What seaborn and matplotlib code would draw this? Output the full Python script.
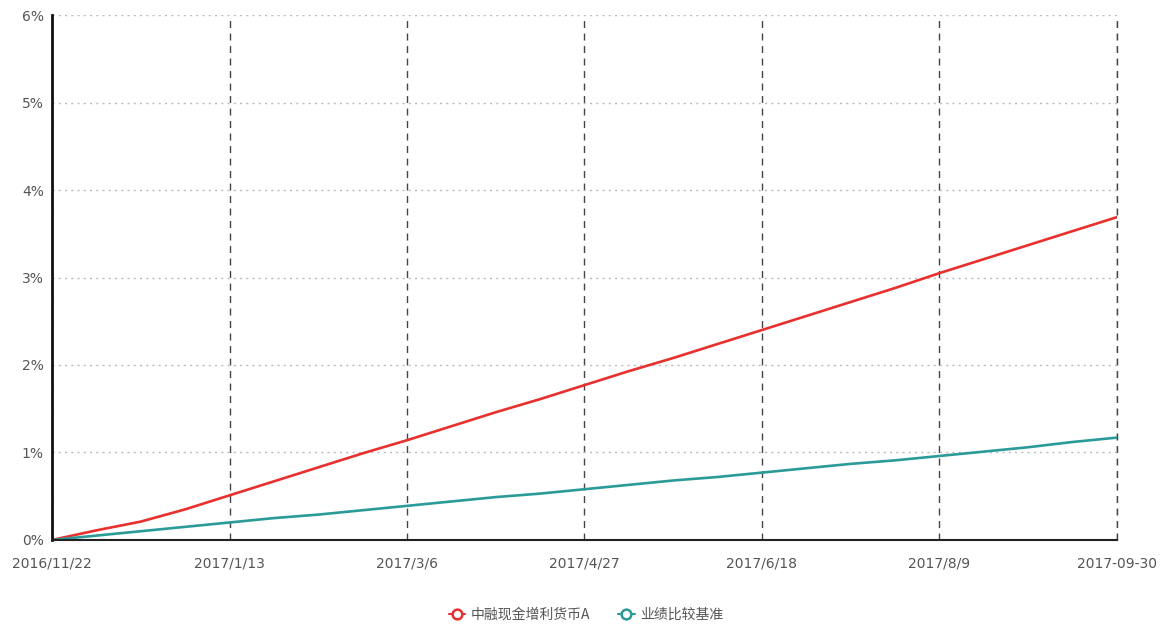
import pandas as pd
import numpy as np
import matplotlib
matplotlib.use("Agg")
import matplotlib.pyplot as plt
from matplotlib.lines import Line2D
import seaborn as sn

# data (cumulative return, %)
dates = ["2016-11-22", "2016-12-05", "2016-12-18", "2016-12-31", "2017-01-13",
         "2017-01-26", "2017-02-08", "2017-02-21", "2017-03-06", "2017-03-19",
         "2017-04-01", "2017-04-14", "2017-04-27", "2017-05-10", "2017-05-23",
         "2017-06-05", "2017-06-18", "2017-07-01", "2017-07-14", "2017-07-27",
         "2017-08-09", "2017-08-22", "2017-09-04", "2017-09-17", "2017-09-30"]
fund = [0.00, 0.11, 0.21, 0.35, 0.51, 0.67, 0.83, 0.99, 1.14, 1.30,
        1.46, 1.61, 1.77, 1.93, 2.08, 2.24, 2.40, 2.56, 2.72, 2.88,
        3.05, 3.21, 3.37, 3.53, 3.69]
bench = [0.00, 0.05, 0.10, 0.15, 0.20, 0.25, 0.29, 0.34, 0.39, 0.44,
         0.49, 0.53, 0.58, 0.63, 0.68, 0.72, 0.77, 0.82, 0.87, 0.91,
         0.96, 1.01, 1.06, 1.12, 1.17]
names = ["中融现金增利货币A", "业绩比较基准"]
colors = {names[0]: "#e8302e", names[1]: "#2b9b98"}

tick_dates = ["2016-11-22", "2017-01-13", "2017-03-06", "2017-04-27",
              "2017-06-18", "2017-08-09", "2017-09-30"]
tick_labels = ["2016/11/22", "2017/1/13", "2017/3/6", "2017/4/27",
               "2017/6/18", "2017/8/9", "2017-09-30"]
y_ticks = [0, 1, 2, 3, 4, 5, 6]

df = pd.DataFrame({
    "date": pd.to_datetime(dates * 2),
    "value": fund + bench,
    "series": [names[0]] * len(fund) + [names[1]] * len(bench),
})

sn.set_style("white")
plt.rcParams["font.family"] = ["DejaVu Sans", "Noto Sans CJK SC"]

fig = plt.figure(figsize=(11.72, 6.27), dpi=100)
ax = fig.add_axes([0.0444, 0.1388, 0.9086, 0.8372])

sn.lineplot(data=df, x="date", y="value", hue="series", palette=colors,
            linewidth=1.9, ax=ax, legend=False)

ax.set_xlim(pd.Timestamp(dates[0]), pd.Timestamp(dates[-1]))
ax.set_ylim(0, 6)
ax.set_xticks(pd.to_datetime(tick_dates))
ax.set_xticklabels(tick_labels)
ax.set_yticks(y_ticks)
ax.set_yticklabels([f"{v}%" for v in y_ticks])
ax.set_xlabel("")
ax.set_ylabel("")

ax.grid(axis="y", linestyle=(0, (1.5, 3)), color="#bbbbbb", linewidth=1)
ax.grid(axis="x", linestyle=(0, (5, 4)), color="#444444", linewidth=1)
ax.set_axisbelow(True)
# dashed line at the right edge (grid line there gets clipped)
ax.axvline(pd.Timestamp(dates[-1]), linestyle=(0, (5, 4)), color="#444444",
           linewidth=1, clip_on=False, zorder=0.5)

for s in ["top", "right"]:
    ax.spines[s].set_visible(False)
ax.spines["left"].set_color("#111111")
ax.spines["left"].set_linewidth(2)
ax.spines["bottom"].set_color("#222222")
ax.spines["bottom"].set_linewidth(1.5)

ax.tick_params(axis="both", length=0, labelsize=10, labelcolor="#555555")
ax.tick_params(axis="x", pad=12)
ax.tick_params(axis="y", pad=6)

handles = [Line2D([0], [0], color=colors[n], lw=1.5, marker="o",
                  markersize=7, markerfacecolor="white",
                  markeredgewidth=1.8) for n in names]
leg = fig.legend(handles, names, loc="center", bbox_to_anchor=(0.5, 1 - 615 / 627),
                 ncol=2, frameon=False, fontsize=10, handlelength=1.2,
                 handletextpad=0.4, columnspacing=2.0,
                 prop={"family": ["Noto Sans CJK SC", "DejaVu Sans"], "size": 10})
for t in leg.get_texts():
    t.set_color("#555555")

fig.savefig("out.png", dpi=100)
